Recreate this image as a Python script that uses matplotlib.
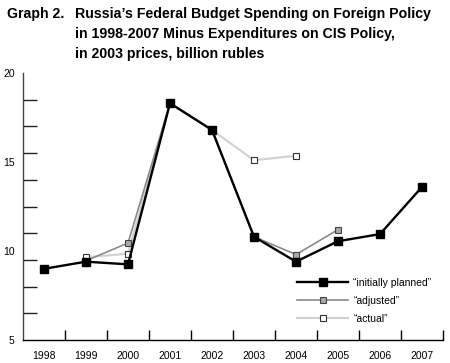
import matplotlib
matplotlib.use("Agg")
import matplotlib.pyplot as plt
import numpy as np

plt.rcParams['font.family'] = ['Liberation Sans', 'DejaVu Sans']

years = ['1998', '1999', '2000', '2001', '2002', '2003', '2004', '2005', '2006', '2007']
planned = [9.0, 9.4, 9.25, 18.3, 16.8, 10.8, 9.4, 10.55, 10.95, 13.6]
adjusted = [None, 9.45, 10.45, 18.3, 16.8, 10.8, 9.8, 11.2, None, None]
actual = [None, 9.65, 9.85, 18.3, 16.8, 15.1, 15.35, None, None, None]
adj_marker_idx = [2, 6, 7]
act_marker_idx = [1, 2, 5, 6]
labels = ['\u201cinitially planned\u201d', '\u201cadjusted\u201d', '\u201cactual\u201d']

def arr(v):
    return np.array([np.nan if x is None else x for x in v], dtype=float)

fig = plt.figure(figsize=(4.5, 3.63), dpi=100)
ax = fig.add_axes([23/450, 1 - 340/363, 420/450, 267/363])
x = np.arange(len(years))

ax.plot(x, arr(actual), color='#d2d2d2', lw=1.6, marker='s', ms=4.2,
        mfc='white', mec='#333333', mew=0.8, markevery=act_marker_idx, zorder=2, label=labels[2])
ax.plot(x, arr(adjusted), color='#8a8a8a', lw=1.2, marker='s', ms=4.2,
        mfc='#a8a8a8', mec='#444444', mew=0.8, markevery=adj_marker_idx, zorder=3, label=labels[1])
ax.plot(x, arr(planned), color='black', lw=1.7, marker='s', ms=5.2,
        mfc='black', mec='black', zorder=4, label=labels[0])

ax.set_xlim(-0.5, 9.5)
ax.set_ylim(5, 20)
ax.spines['top'].set_visible(False)
ax.spines['right'].set_visible(False)
ax.spines['left'].set_color('#444444')
ax.spines['left'].set_linewidth(1.0)
ax.spines['bottom'].set_linewidth(1.0)

ax.set_xticks(x)
ax.set_xticklabels(years, fontsize=7.5)
ax.set_xticks(np.arange(0.5, 10, 1.0), minor=True)
ax.tick_params(axis='x', which='major', length=0, pad=8)
ax.tick_params(axis='x', which='minor', length=7, direction='in', width=1.0)

ax.set_yticks([5, 10, 15, 20])
ax.set_yticklabels(['5', '10', '15', '20'], fontsize=7.5)
ax.set_yticks(np.arange(5, 20.01, 1.5), minor=True)
ax.tick_params(axis='y', which='major', length=0, pad=6)
ax.tick_params(axis='y', which='minor', length=10, direction='in', width=1.0, color='#222222')

h, l = ax.get_legend_handles_labels()
leg = ax.legend(h[::-1], l[::-1], loc='upper left', bbox_to_anchor=(297/450, 1 - 278/363),
                bbox_transform=fig.transFigure, frameon=False, fontsize=7.5,
                handlelength=4.9, borderpad=0, borderaxespad=0, labelspacing=0.75, handletextpad=0.5)

fig.text(7/450, 1 - 14/363, 'Graph 2.', fontsize=10.2, fontweight='bold', va='center', ha='left')
fig.text(75/450, 1 - 7/363,
         'Russia\u2019s Federal Budget Spending on Foreign Policy\n'
         'in 1998-2007 Minus Expenditures on CIS Policy,\n'
         'in 2003 prices, billion rubles',
         fontsize=10.2, fontweight='bold', va='top', ha='left', linespacing=1.55)

fig.savefig('out.png', dpi=100)
